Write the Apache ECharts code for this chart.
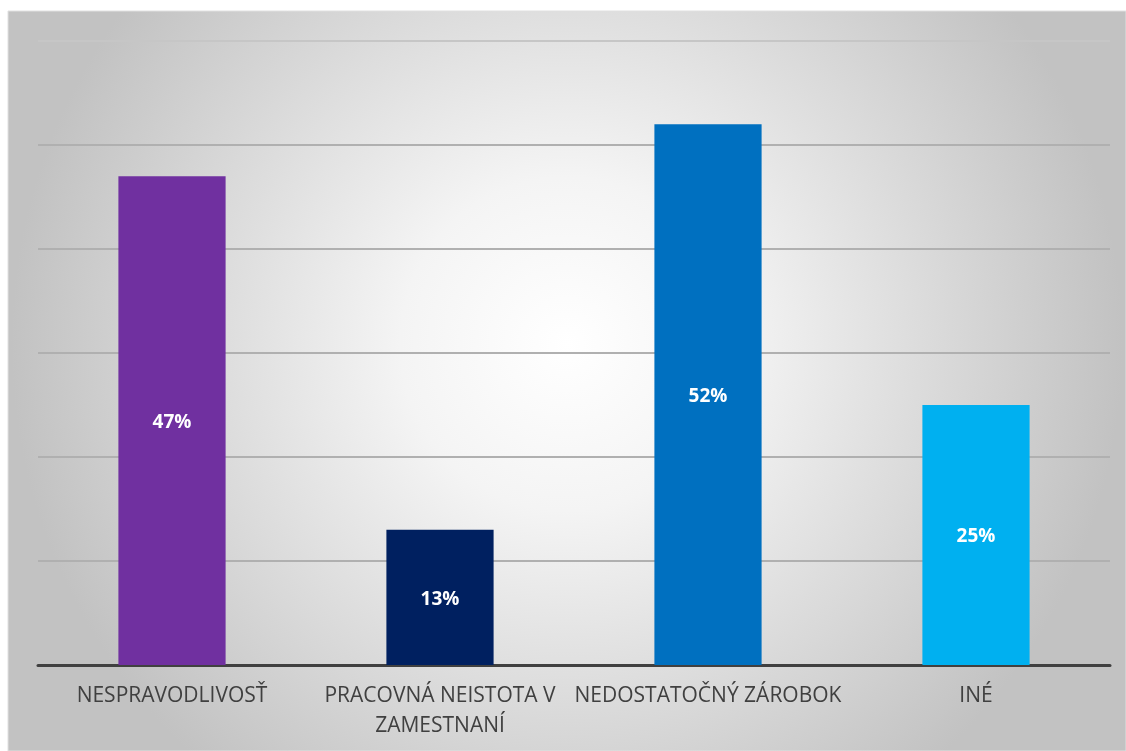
<!DOCTYPE html>
<html>
<head>
<meta charset="utf-8">
<script src="https://cdn.jsdelivr.net/npm/echarts@6/dist/echarts.min.js"></script>
<style>
  html, body { margin: 0; padding: 0; background: #fff; }
  #chart { width: 1126px; height: 751px; }
</style>
</head>
<body>
<div id="chart"></div>
<script>
// data
const categories = ["NESPRAVODLIVOSŤ", "PRACOVNÁ NEISTOTA V\nZAMESTNANÍ", "NEDOSTATOČNÝ ZÁROBOK", "INÉ"];
const values = [47, 13, 52, 25];
const barColors = ["#7030A0", "#002060", "#0070C0", "#00B0F0"];

const chart = echarts.init(document.getElementById("chart"));

chart.setOption({
  backgroundColor: "#ffffff",
  animation: false,
  graphic: [
    {
      type: "rect",
      z: -10,
      shape: { x: 8, y: 11, width: 1118, height: 740 },
      style: {
        fill: new echarts.graphic.RadialGradient(0.5, 0.45, 0.75, [
          { offset: 0, color: "#ffffff" },
          { offset: 0.3, color: "#f4f4f4" },
          { offset: 1, color: "#c2c2c2" },
        ]),
        stroke: "#e0e0e0",
        lineWidth: 1,
      },
    },
  ],
  grid: {
    left: 38,
    right: 16,
    top: 41,
    bottom: 86,
  },
  xAxis: {
    type: "category",
    data: categories,
    axisTick: { show: false },
    axisLine: {
      lineStyle: { color: "#404040", width: 3 },
    },
    axisLabel: {
      color: "#404040",
      fontFamily: "Open Sans",
      fontSize: 21,
      lineHeight: 30,
      margin: 16,
      interval: 0,
    },
  },
  yAxis: {
    type: "value",
    min: 0,
    max: 60,
    interval: 10,
    axisLabel: { show: false },
    axisLine: { show: false },
    axisTick: { show: false },
    splitLine: {
      lineStyle: {
        color: ["#b0b0b0", "#b0b0b0", "#b0b0b0", "#b0b0b0", "#b0b0b0", "#b0b0b0", "#c6c6c6"],
        width: 2,
      },
    },
  },
  series: [
    {
      type: "bar",
      barWidth: "40%",
      data: values.map((v, i) => ({
        value: v,
        itemStyle: { color: barColors[i] },
      })),
      label: {
        show: true,
        position: "inside",
        offset: [0, 2],
        formatter: "{c}%",
        color: "#ffffff",
        fontFamily: "Open Sans",
        fontWeight: "bold",
        fontSize: 19,
      },
    },
  ],
});
</script>
</body>
</html>
